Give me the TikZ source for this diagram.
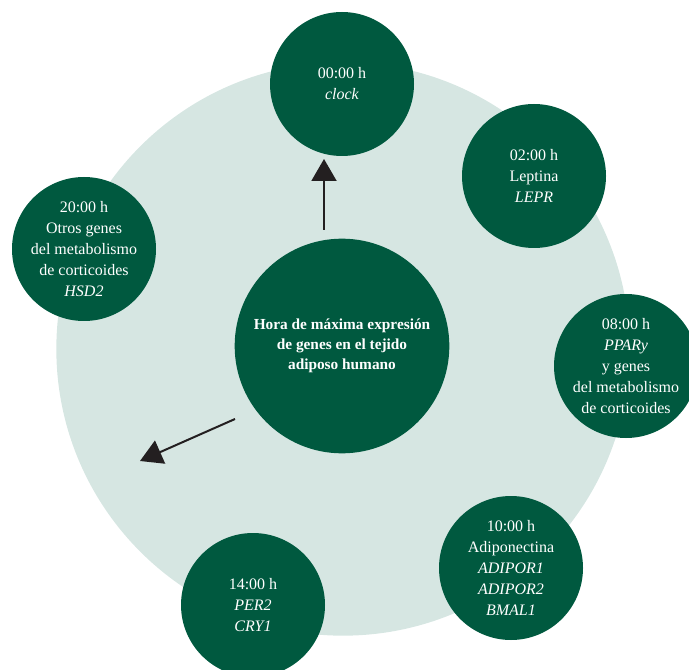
\documentclass[tikz,border=0pt]{standalone}
\usepackage{fontspec}
\setmainfont{Liberation Serif}
\usepackage{tikz}
\usetikzlibrary{arrows.meta}
\definecolor{verdeoscuro}{RGB}{0,89,63}
\definecolor{verdeclaro}{RGB}{214,230,226}
\definecolor{flechanegra}{RGB}{35,31,32}

\begin{document}
\begin{tikzpicture}[x=0.75pt,y=0.75pt,yscale=-1,xscale=1,
    hora/.style={circle, fill=verdeoscuro, minimum size=108pt, inner sep=0pt,
      text=white, align=center, font=\fontsize{12}{15.75}\selectfont},
    flecha/.style={draw=flechanegra, line width=1.5pt,
      -{Triangle[width=18.75pt,length=16.5pt]}}]
        \useasboundingbox (0,0) rectangle (689,670);
        % fondo
        \node [circle, fill=verdeclaro, minimum size=430pt, inner sep=0pt] (disco) at (343,349) {};
        % circulo central
        \node [hora, minimum size=161pt, font=\bfseries\fontsize{11.5}{15}\selectfont] (centro) at (342,346)
            {Hora de máxima expresión\\de genes en el tejido\\adiposo humano};
        % horas
        \node [hora] (h00) at (342,84) {00:00 h\\\textit{clock}};
        \node [hora] (h02) at (534,176) {02:00 h\\Leptina\\\textit{LEPR}};
        \node [hora] (h08) at (626,366) {08:00 h\\\textit{PPARy}\\y genes\\del metabolismo\\de corticoides};
        \node [hora] (h10) at (511,568) {10:00 h\\Adiponectina\\\textit{ADIPOR1}\\\textit{ADIPOR2}\\\textit{BMAL1}};
        \node [hora] (h14) at (253,605) {14:00 h\\\textit{PER2}\\\textit{CRY1}};
        \node [hora] (h20) at (84,249) {20:00 h\\Otros genes\\del metabolismo\\de corticoides\\\textit{HSD2}};
        % flechas
        \coordinate (a1) at (324,230);
        \coordinate (a2) at (324,159);
        \coordinate (b1) at (235,419);
        \coordinate (b2) at (140,461);
        \draw [flecha] (a1) -- (a2);
        \draw [flecha] (b1) -- (b2);
\end{tikzpicture}
\end{document}
